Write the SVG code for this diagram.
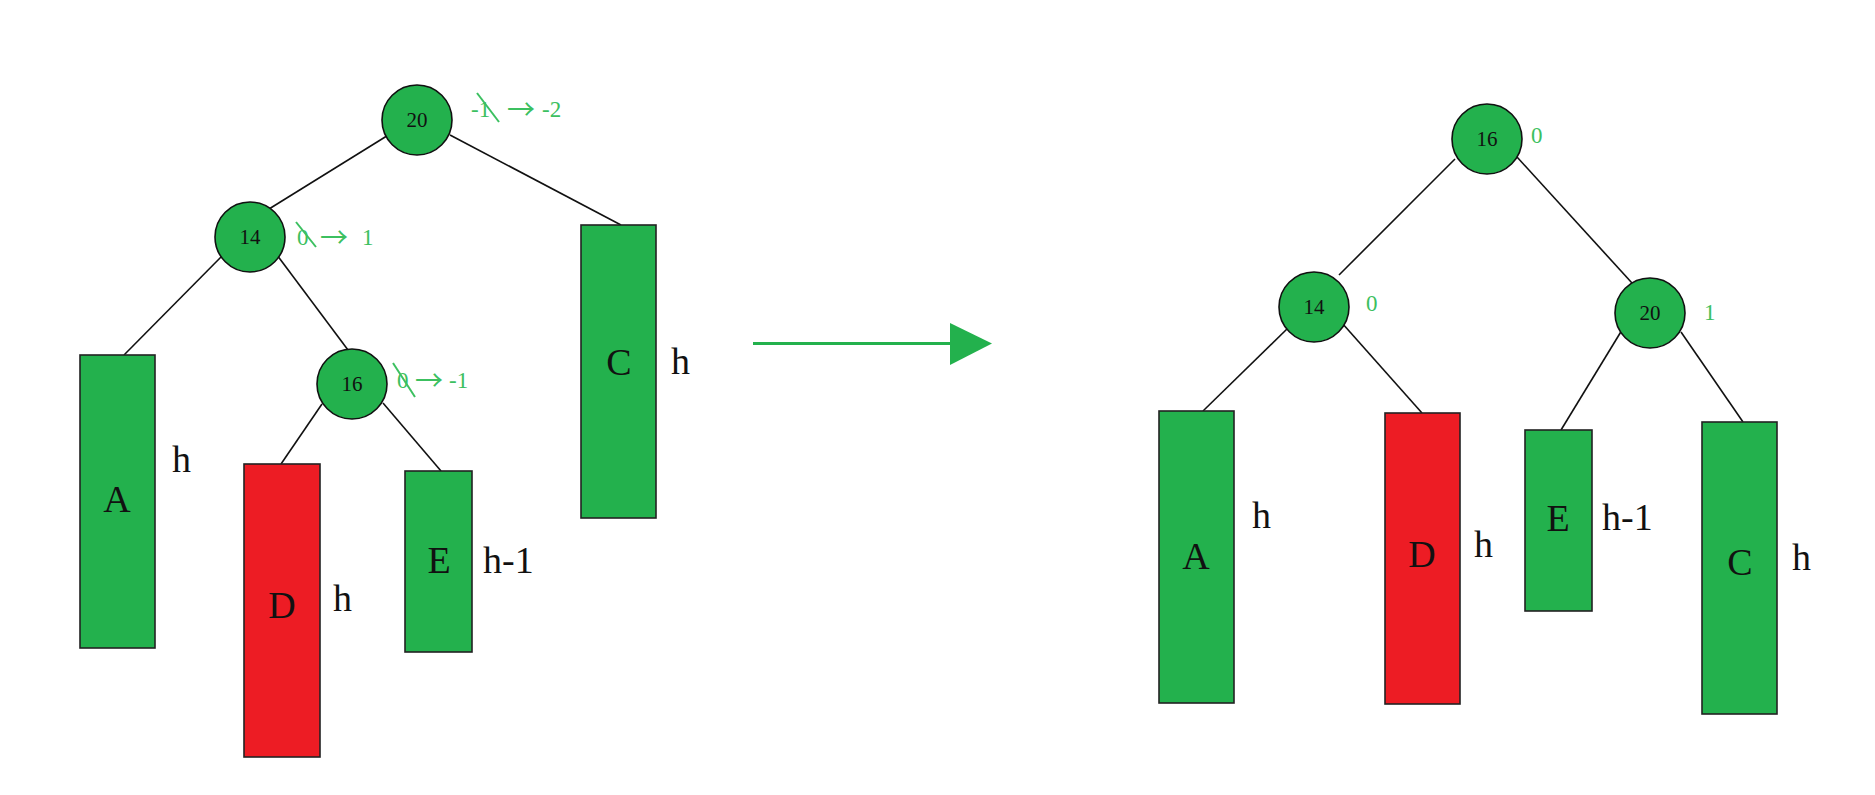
<svg xmlns="http://www.w3.org/2000/svg" width="1875" height="795" viewBox="0 0 1875 795">
<style>
.nd{fill:#23b14d;stroke:#111;stroke-width:1.6}
.rg{fill:#23b14d;stroke:#222;stroke-width:1.6}
.rr{fill:#ed1c24;stroke:#222;stroke-width:1.6}
.num{font-family:"Liberation Serif",serif;font-size:21px;fill:#111;text-anchor:middle;dominant-baseline:central}
.lbl{font-family:"Liberation Serif",serif;font-size:38px;fill:#111;text-anchor:middle;dominant-baseline:central}
.hl{font-family:"Liberation Serif",serif;font-size:38px;fill:#111;dominant-baseline:central}
.bf{font-family:"Liberation Serif",serif;font-size:23px;fill:#3cc060;dominant-baseline:central}
.ar{font-family:"Noto Sans CJK SC",sans-serif;font-size:28px;fill:#3cc060;dominant-baseline:central}
.edge{stroke:#111;stroke-width:1.6;fill:none}
.strike{stroke:#3cc060;stroke-width:2}
</style>
<g id="connectors">
<line class="edge" x1="390" y1="134" x2="269" y2="209"/>
<line class="edge" x1="450" y1="135" x2="621" y2="225"/>
<line class="edge" x1="222" y1="256" x2="124" y2="355"/>
<line class="edge" x1="277" y1="255" x2="348" y2="350"/>
<line class="edge" x1="322" y1="404" x2="281" y2="464"/>
<line class="edge" x1="383" y1="403" x2="441" y2="471"/>
<line class="edge" x1="1455" y1="159" x2="1339" y2="275"/>
<line class="edge" x1="1517" y1="157" x2="1632" y2="283"/>
<line class="edge" x1="1288" y1="328" x2="1203" y2="411"/>
<line class="edge" x1="1342" y1="323" x2="1422" y2="413"/>
<line class="edge" x1="1622" y1="330" x2="1561" y2="430"/>
<line class="edge" x1="1681" y1="332" x2="1743" y2="422"/>
<g id="transform-arrow">
<line x1="753" y1="343.5" x2="952" y2="343.5" stroke="#23b14d" stroke-width="3"/>
<polygon points="950,323 992,343.5 950,365" fill="#23b14d"/>
</g>
</g>
<g id="L-20"><circle class="nd" cx="417" cy="120" r="35"/><text class="num" x="417" y="120">20</text>
<text class="bf" x="471" y="109">-1</text><text class="ar" x="507" y="108">→</text><text class="bf" x="542" y="109">-2</text>
<line class="strike" x1="477" y1="93" x2="499" y2="122"/></g>
<g id="L-14"><circle class="nd" cx="250" cy="237" r="35"/><text class="num" x="250" y="237">14</text>
<text class="bf" x="297" y="237">0</text><text class="ar" x="320" y="236">→</text><text class="bf" x="362" y="237">1</text>
<line class="strike" x1="296" y1="222" x2="316" y2="247"/></g>
<g id="L-16"><circle class="nd" cx="352" cy="384" r="35"/><text class="num" x="352" y="384">16</text>
<text class="bf" x="397" y="380">0</text><text class="ar" x="415" y="379">→</text><text class="bf" x="449" y="380">-1</text>
<line class="strike" x1="393" y1="363" x2="415" y2="397"/></g>
<g id="L-A"><rect class="rg" x="80" y="355" width="75" height="293"/><text class="lbl" x="117" y="499">A</text><text class="hl" x="172" y="459">h</text></g>
<g id="L-D"><rect class="rr" x="244" y="464" width="76" height="293"/><text class="lbl" x="282" y="605">D</text><text class="hl" x="333" y="598">h</text></g>
<g id="L-E"><rect class="rg" x="405" y="471" width="67" height="181"/><text class="lbl" x="439" y="560">E</text><text class="hl" x="483" y="560">h-1</text></g>
<g id="L-C"><rect class="rg" x="581" y="225" width="75" height="293"/><text class="lbl" x="619" y="362">C</text><text class="hl" x="671" y="361">h</text></g>
<g id="R-16"><circle class="nd" cx="1487" cy="139" r="35"/><text class="num" x="1487" y="139">16</text><text class="bf" x="1531" y="135">0</text></g>
<g id="R-14"><circle class="nd" cx="1314" cy="307" r="35"/><text class="num" x="1314" y="307">14</text><text class="bf" x="1366" y="303">0</text></g>
<g id="R-20"><circle class="nd" cx="1650" cy="313" r="35"/><text class="num" x="1650" y="313">20</text><text class="bf" x="1704" y="312">1</text></g>
<g id="R-A"><rect class="rg" x="1159" y="411" width="75" height="292"/><text class="lbl" x="1196" y="556">A</text><text class="hl" x="1252" y="515">h</text></g>
<g id="R-D"><rect class="rr" x="1385" y="413" width="75" height="291"/><text class="lbl" x="1422" y="554">D</text><text class="hl" x="1474" y="544">h</text></g>
<g id="R-E"><rect class="rg" x="1525" y="430" width="67" height="181"/><text class="lbl" x="1558" y="518">E</text><text class="hl" x="1602" y="517">h-1</text></g>
<g id="R-C"><rect class="rg" x="1702" y="422" width="75" height="292"/><text class="lbl" x="1740" y="562">C</text><text class="hl" x="1792" y="557">h</text></g>
</svg>
